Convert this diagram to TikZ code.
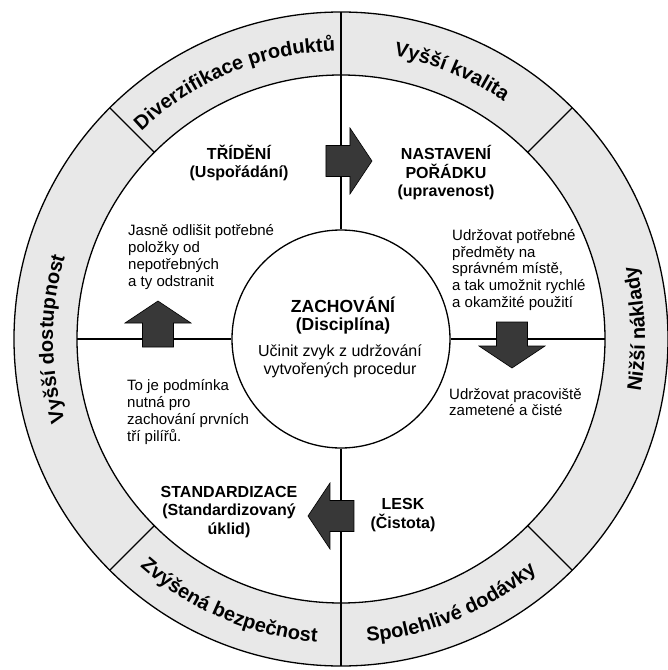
\documentclass[tikz,border=0pt]{standalone}
\usepackage{fontspec}
\setmainfont{Liberation Sans}
\usetikzlibrary{decorations.text}
\newcommand\ringfont{\bfseries\fontsize{20}{24}\selectfont}
\begin{document}
\begin{tikzpicture}[x=1pt,y=1pt,
  ringline/.style={line width=1.3pt},
  divline/.style={line width=1.2pt},
  arrowfill/.style={fill=black!78, draw=black, line width=0.6pt},
  body/.style={font=\fontsize{15}{16.7}\selectfont, align=left, inner sep=0pt},
  title/.style={font=\bfseries\fontsize{16}{18.5}\selectfont, align=center, inner sep=0pt},
  coretitle/.style={font=\bfseries\fontsize{17.5}{18}\selectfont, align=center, inner sep=0pt},
  corebody/.style={font=\fontsize{16}{18}\selectfont, align=center, inner sep=0pt},
  ringtext/.style={decorate, decoration={text along path, text align=center, text={|\ringfont|#1}}},
  blockarrow/.pic={\filldraw[arrowfill] (0,-15.5) -- (24,-15.5) -- (24,-33) -- (46,0) -- (24,33) -- (24,15.5) -- (0,15.5) -- cycle;}
]
\useasboundingbox (-341,-331) rectangle (327,339);
\fill[white] (-341,-331) rectangle (327,339);
% ring
\fill[black!9, even odd rule] (0,0) circle[radius=327pt] (0,0) circle[radius=264pt];
\draw[ringline] (0,0) circle[radius=327pt];
\draw[ringline] (0,0) circle[radius=264pt];
\node[circle, draw, ringline, minimum size=218pt, inner sep=0pt] (core) at (0,0) {};
% dividers
\coordinate (topo) at (90:327pt);
\coordinate (boto) at (270:327pt);
\coordinate (lefti) at (180:264pt);
\coordinate (righti) at (0:264pt);
\draw[divline] (core.north) -- (topo);
\draw[divline] (core.south) -- (boto);
\draw[divline] (core.west) -- (lefti);
\draw[divline] (core.east) -- (righti);
\foreach \a in {45,135,225,315} \draw[divline] (\a:264pt) -- (\a:327pt);
% ring texts
\path[ringtext={Diverzifikace produktů}] (150:288pt) arc[start angle=150, end angle=75, radius=288pt];
\path[ringtext={Vyšší kvalita}] (105:288pt) arc[start angle=105, end angle=30, radius=288pt];
\path[ringtext={Nižší náklady}] (-38:304pt) arc[start angle=-38, end angle=42, radius=304pt];
\path[ringtext={Vyšší dostupnost}] (222:288pt) arc[start angle=222, end angle=138, radius=288pt];
\path[ringtext={Zvýšená bezpečnost}] (208:304pt) arc[start angle=208, end angle=286, radius=304pt];
\path[ringtext={Spolehlivé dodávky}] (253:304pt) arc[start angle=253, end angle=332, radius=304pt];
% arrows
\pic at (-15,178) {blockarrow};
\pic[rotate=-90] at (171,17) {blockarrow};
\pic[rotate=180] at (13,-177) {blockarrow};
\pic[rotate=90] at (-183,-8) {blockarrow};
% texts
\node[title] (trid) at (-102,176) {TŘÍDĚNÍ\\(Uspořádání)};
\node[title] (nast) at (105,166) {NASTAVENÍ\\POŘÁDKU\\(upravenost)};
\node[body, anchor=west] (nastd) at (111,69) {Udržovat potřebné\\předměty na\\správném místě,\\a tak umožnit rychlé\\a okamžité použití};
\node[body, anchor=west] (tridd) at (-213,82) {Jasně odlišit potřebné\\položky od\\nepotřebných\\a ty odstranit};
\node[coretitle] (zach) at (2,23) {ZACHOVÁNÍ\\(Disciplína)};
\node[corebody] (zachd) at (-1,-22) {Učinit zvyk z udržování\\vytvořených procedur};
\node[body, anchor=west] (standd) at (-214,-73) {To je podmínka\\nutná pro\\zachování prvních\\tří pilířů.};
\node[title] (stand) at (-112,-173) {STANDARDIZACE\\(Standardizovaný\\úklid)};
\node[title] (lesk) at (62,-176) {LESK\\(Čistota)};
\node[body, anchor=west] (leskd) at (108,-63) {Udržovat pracoviště\\zametené a čisté};
\end{tikzpicture}
\end{document}
